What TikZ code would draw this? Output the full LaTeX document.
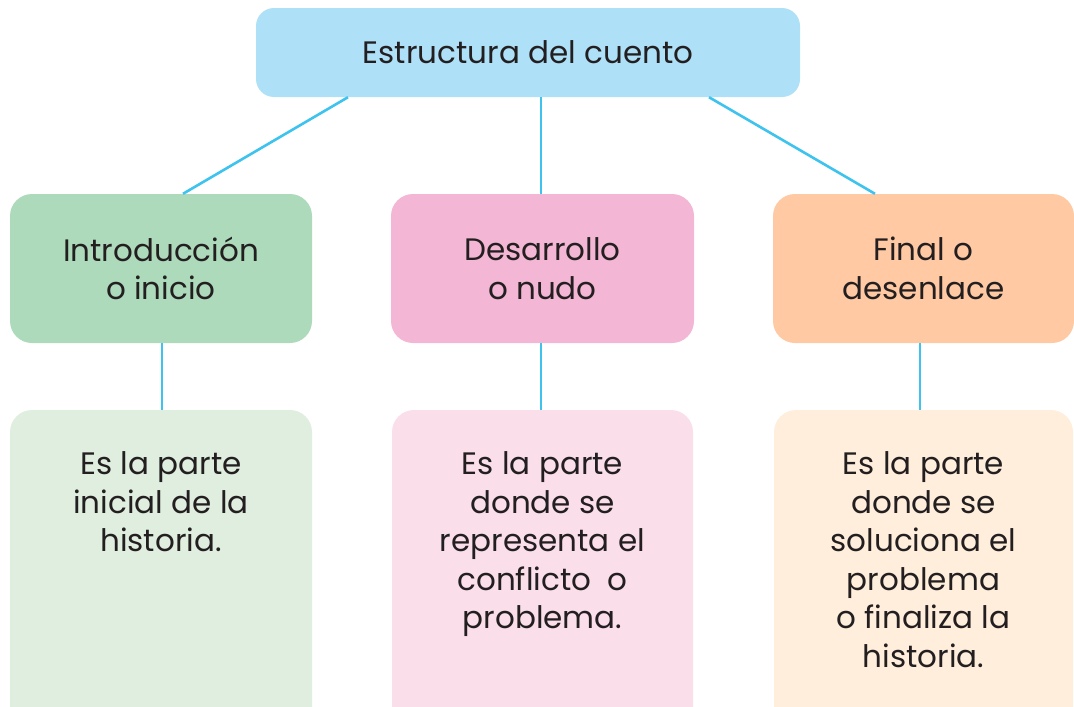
\documentclass[tikz,border=0pt]{standalone}
\usepackage{fontspec}
\setmainfont{Poppins}
\definecolor{topc}{HTML}{AEE0F8}
\definecolor{greenc}{HTML}{ADDABB}
\definecolor{pinkc}{HTML}{F3B6D4}
\definecolor{orangec}{HTML}{FEC9A3}
\definecolor{lgreen}{HTML}{DFEEDF}
\definecolor{lpink}{HTML}{FADFEB}
\definecolor{lorange}{HTML}{FFEEDC}
\definecolor{linec}{HTML}{3EC3EE}
\definecolor{textc}{HTML}{231F20}
\tikzset{
  topbox/.style={fill=topc, draw=none, rounded corners=18pt, minimum width=544pt, minimum height=89pt, inner sep=0pt, text=textc, font=\fontsize{31}{38.5}\selectfont},
  midbox/.style={draw=none, rounded corners=22pt, minimum height=149pt, inner sep=0pt, align=center, text=textc, font=\fontsize{31}{38.5}\selectfont},
  lowbox/.style={draw=none, rounded corners=22pt, minimum height=330pt, inner sep=0pt},
  lowtext/.style={anchor=north, align=center, text=textc, font=\fontsize{31}{38.5}\selectfont, inner sep=0pt},
  conn/.style={draw=linec, line width=2.6pt}
}
\begin{document}
\begin{tikzpicture}[x=1pt,y=-1pt]
\useasboundingbox (0,0) rectangle (1074,707);
\clip (0,0) rectangle (1074,707);
% nodes
\node[topbox] (top) at (528,52.5) {Estructura del cuento};
\node[midbox, fill=greenc, minimum width=302pt] (intro) at (161,268.5) {Introducción\\o inicio};
\node[midbox, fill=pinkc, minimum width=303pt] (des) at (542.5,268.5) {Desarrollo\\o nudo};
\node[midbox, fill=orangec, minimum width=301pt] (fin) at (923.5,268.5) {Final o\\desenlace};
\node[lowbox, fill=lgreen, minimum width=302pt] (gb) at (161,575) {};
\node[lowbox, fill=lpink, minimum width=301pt] (pb) at (542.5,575) {};
\node[lowbox, fill=lorange, minimum width=299pt] (ob) at (923.5,575) {};
\node[lowtext] (gt) at ([yshift=-42pt]gb.north) {Es la parte\\inicial de la\\historia.};
\node[lowtext] (pt) at ([yshift=-42pt]pb.north) {Es la parte\\donde se\\representa el\\conflicto~ o\\problema.};
\node[lowtext] (ot) at ([yshift=-42pt]ob.north) {Es la parte\\donde se\\soluciona el\\problema\\o finaliza la\\historia.};
% connectors
\draw[conn] ([xshift=-180pt]top.south) -- ([xshift=22pt]intro.north);
\draw[conn] ([xshift=13pt]top.south) -- ([xshift=-1.5pt]des.north);
\draw[conn] ([xshift=181pt]top.south) -- ([xshift=-48.5pt]fin.north);
\draw[conn] ([xshift=1pt]intro.south) -- ([xshift=1pt]intro.south |- gb.north);
\draw[conn] ([xshift=-1.5pt]des.south) -- ([xshift=-1.5pt]des.south |- pb.north);
\draw[conn] ([xshift=-3.5pt]fin.south) -- ([xshift=-3.5pt]fin.south |- ob.north);
\end{tikzpicture}
\end{document}
